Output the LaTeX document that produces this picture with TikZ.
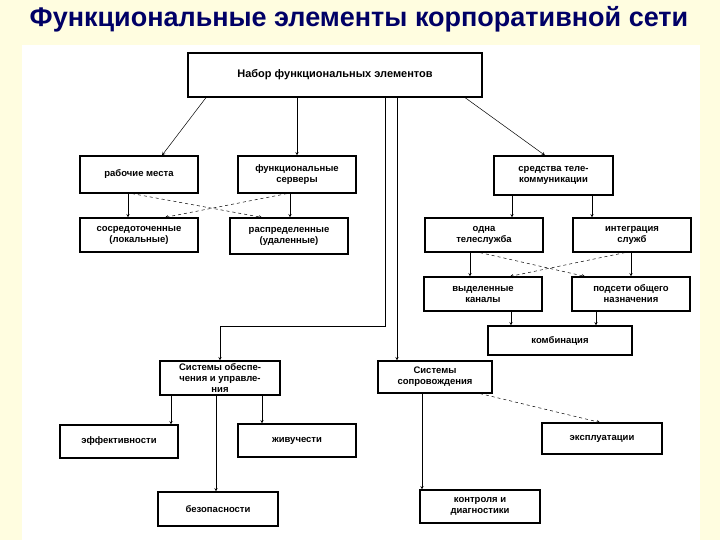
\documentclass[tikz,border=0pt]{standalone}
\usepackage{fontspec}
\setmainfont{Liberation Sans}
\begin{document}
\begin{tikzpicture}[x=1pt,y=-1pt,
 bx/.style={draw,line width=1.2pt,fill=white,font=\bfseries\fontsize{9.5}{11}\selectfont,align=center,inner sep=1pt},
 ar/.style={->,>=stealth,line width=0.5pt},
 da/.style={->,>=stealth,line width=0.5pt,dashed}]
\fill[yellow!12] (0,0) rectangle (720,540);
\useasboundingbox (0,0) rectangle (720,540);
\fill[white] (22,45) rectangle (700,540);
\node[font=\bfseries\fontsize{27}{30}\selectfont,text=blue!40!black] (title) at (359,19) {Функциональные элементы корпоративной сети};
\def\bxat#1#2#3#4#5#6{\node[bx,minimum width={#4-#2},minimum height={#5-#3}] (#1) at ({(#2+#4)/2},{(#3+#5)/2}) {#6};}
\bxat{top}{188}{53}{482}{97}{\fontsize{11}{12}\selectfont Набор функциональных элементов}
\bxat{rab}{80}{156}{198}{193}{рабочие места}
\bxat{fs}{238}{156}{356}{193}{функциональные\\серверы}
\bxat{sos}{80}{218}{198}{252}{сосредоточенные\\(локальные)}
\bxat{ras}{230}{218}{348}{254}{распределенные\\(удаленные)}
\bxat{sr}{494}{156}{613}{195}{средства теле-\\коммуникации}
\bxat{od}{425}{218}{543}{252}{одна\\телеслужба}
\bxat{int}{573}{218}{691}{252}{интеграция\\служб}
\bxat{vy}{424}{277}{542}{311}{выделенные\\каналы}
\bxat{po}{572}{277}{690}{311}{подсети общего\\назначения}
\bxat{ko}{488}{326}{632}{355}{комбинация}
\bxat{so}{160}{361}{280}{395}{Системы обеспе-\\чения и управле-\\ния}
\bxat{sp}{378}{361}{492}{393}{Системы\\сопровождения}
\bxat{ef}{60}{425}{178}{458}{эффективности}
\bxat{zh}{238}{424}{356}{457}{живучести}
\bxat{ek}{542}{423}{662}{454}{эксплуатации}
\bxat{be}{158}{492}{278}{526}{безопасности}
\bxat{kd}{420}{490}{540}{523}{контроля и\\диагностики}
\coordinate (c1) at (385,326);
\draw[ar] (top.south -| {(206,0)}) -- (rab.north -| {(162,0)});
\draw[ar] (top.south -| fs.north) -- (fs.north);
\draw[ar] (top.south -| {(465,0)}) -- (sr.north -| {(545,0)});
\draw[ar] (top.south -| c1) -- (c1) -| (so.north);
\draw[ar] (top.south -| {(397,0)}) -- (sp.north -| {(397,0)});
\draw[ar] (rab.south -| {(128,0)}) -- (sos.north -| {(128,0)});
\draw[da] (rab.south -| {(132,0)}) -- (ras.north -| {(262,0)});
\draw[ar] (fs.south -| {(290,0)}) -- (ras.north -| {(290,0)});
\draw[da] (fs.south -| {(287,0)}) -- (sos.north -| {(165,0)});
\draw[ar] (sr.south -| {(512,0)}) -- (od.north -| {(512,0)});
\draw[ar] (sr.south -| {(592,0)}) -- (int.north -| {(592,0)});
\draw[ar] (od.south -| {(470,0)}) -- (vy.north -| {(470,0)});
\draw[da] (od.south -| {(480,0)}) -- (po.north -| {(585,0)});
\draw[ar] (int.south -| {(631,0)}) -- (po.north -| {(631,0)});
\draw[da] (int.south -| {(625,0)}) -- (vy.north -| {(510,0)});
\draw[ar] (vy.south -| {(511,0)}) -- (ko.north -| {(511,0)});
\draw[ar] (po.south -| {(596,0)}) -- (ko.north -| {(596,0)});
\draw[ar] (so.south -| {(171,0)}) -- (ef.north -| {(171,0)});
\draw[ar] (so.south -| {(262,0)}) -- (zh.north -| {(262,0)});
\draw[ar] (so.south -| {(216,0)}) -- (be.north -| {(216,0)});
\draw[ar] (sp.south -| {(422,0)}) -- (kd.north -| {(422,0)});
\draw[da] (sp.south -| {(480,0)}) -- (ek.north -| {(600,0)});
\end{tikzpicture}
\end{document}
